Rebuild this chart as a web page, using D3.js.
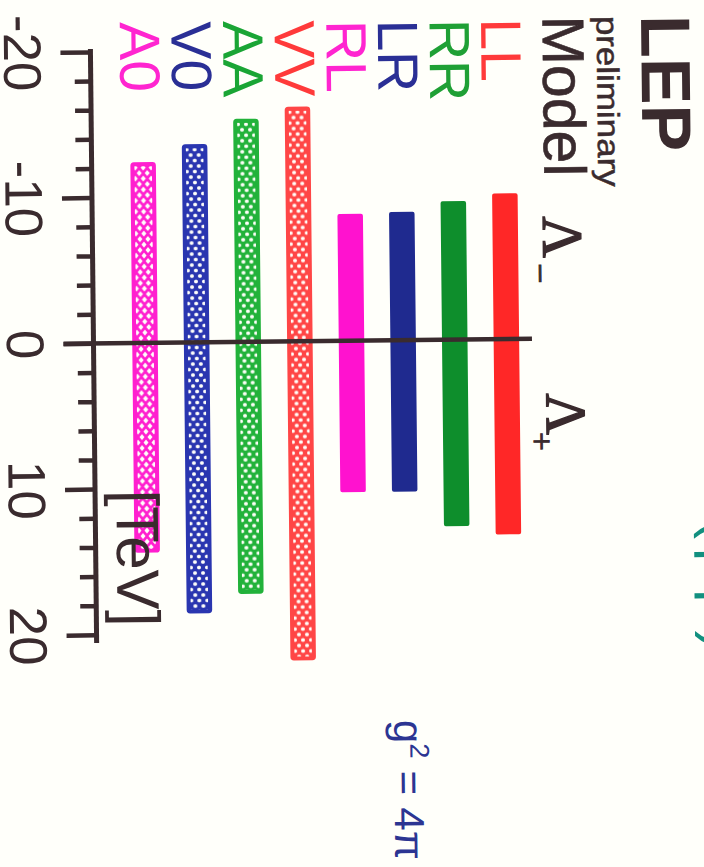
<!DOCTYPE html>
<html>
<head>
<meta charset="utf-8">
<script src="https://cdn.jsdelivr.net/npm/d3@7"></script>
<style>
  html, body { margin: 0; padding: 0; background: #fffffa; }
  svg { display: block; }
</style>
</head>
<body>
<script>
// Contact-interaction scale limits Λ− / Λ+ (TeV) per model
const models      = ["LL", "RR", "LR", "RL", "VV", "AA", "VO", "AO"];
const modelLabels = ["LL", "RR", "LR", "RL", "VV", "AA", "V0", "A0"];
const lambdaMinus = [10.0, 9.5, 8.8, 8.7, 16.1, 15.3, 13.6, 12.4];
const lambdaPlus  = [13.4, 12.8, 10.4, 10.4, 21.9, 17.3, 18.6, 14.4];
const hatched     = [false, false, false, false, true, true, true, true];
const barColors   = ["#ff2727", "#0e8e2c", "#1f2a8f", "#ff12cf", "#ff4646", "#22b23a", "#2a36b0", "#ff1fcf"];
const textColors  = ["#ff3a3a", "#1fa035", "#2a2f95", "#ff25d0", "#ff3a3a", "#1aa535", "#2a2f95", "#ff25d0"];
const majorTicks  = [-20, -10, 0, 10, 20];
const minorTicks  = [-18, -16, -14, -12, -8, -6, -4, -2, 2, 4, 6, 8, 12, 14, 16, 18];
const tickLabels  = ["-20", "-10", "0", "10", "20"];

const W = 704, H = 867;
const ink = "#3a2b2e";
const paper = "#fffffa";
const sans = "'Liberation Sans', Arial, Helvetica, sans-serif";
const serif = "'Liberation Serif', 'Times New Roman', serif";

const svg = d3.select("body").append("svg")
  .attr("width", W).attr("height", H);

svg.append("rect").attr("width", W).attr("height", H).attr("fill", paper);

const defs = svg.append("defs");

// The plot is laid out landscape and turned a quarter turn clockwise onto the page
const page = svg.append("g").attr("transform", "rotate(-0.6, 300, 343)");
const g = page.append("g").attr("transform", `translate(${W},0) rotate(90)`);

// value axis runs along the chart's horizontal, models stacked vertically
const x = d3.scaleLinear().domain([-20, 20]).range([49.7, 632.7]);
const y = d3.scalePoint().domain(models).range([197.6, 559]);
const barW = 25.5;
const axisY = 610.5;

const rows = models.map((m, i) => ({
  m, label: modelLabels[i], lo: -lambdaMinus[i], hi: lambdaPlus[i],
  hatched: hatched[i], color: barColors[i], text: textColors[i], i
}));

// dotted cross-hatch fills for the hatched models
rows.filter(d => d.hatched).forEach(d => {
  const pw = 11, ph = 8;
  const p = defs.append("pattern")
    .attr("id", "hatch-" + d.m)
    .attr("patternUnits", "userSpaceOnUse")
    .attr("width", pw).attr("height", ph)
    .attr("x", x(d.lo)).attr("y", y(d.m) - ph / 2);
  p.append("rect").attr("width", pw).attr("height", ph).attr("fill", d.color);
  const holes = [[0, 0], [pw, 0], [0, ph], [pw, ph], [pw / 2, ph / 2]];
  if (d.m === "AO") {
    holes.forEach(([cx, cy]) => p.append("path")
      .attr("d", `M${cx - 3},${cy} L${cx},${cy - 2.4} L${cx + 3},${cy} L${cx},${cy + 2.4} Z`)
      .attr("fill", paper));
  } else {
    holes.forEach(([cx, cy]) => p.append("circle")
      .attr("cx", cx).attr("cy", cy).attr("r", 1.9).attr("fill", paper));
  }
});

// bars
const bars = g.append("g");
rows.forEach(d => {
  if (d.hatched) {
    bars.append("rect")
      .attr("x", x(d.lo) + 2).attr("y", y(d.m) - barW / 2 + 2)
      .attr("width", x(d.hi) - x(d.lo) - 4).attr("height", barW - 4)
      .attr("rx", 1.5)
      .attr("fill", `url(#hatch-${d.m})`)
      .attr("stroke", d.color).attr("stroke-width", 4);
  } else {
    bars.append("rect")
      .attr("x", x(d.lo)).attr("y", y(d.m) - barW / 2)
      .attr("width", x(d.hi) - x(d.lo)).attr("height", barW)
      .attr("rx", 2)
      .attr("fill", d.color);
  }
});

// axis with minor and major ticks
const minorAxis = d3.axisBottom(x).tickValues(minorTicks).tickSize(16).tickSizeOuter(0).tickFormat("");
const majorAxis = d3.axisBottom(x).tickValues(majorTicks).tickSize(30).tickSizeOuter(0)
  .tickFormat((v, k) => tickLabels[k]);

const ga1 = g.append("g").attr("transform", `translate(0,${axisY})`).call(minorAxis);
const ga2 = g.append("g").attr("transform", `translate(0,${axisY})`).call(majorAxis);
[ga1, ga2].forEach(a => {
  a.select(".domain").remove();
  a.selectAll(".tick line").attr("stroke", ink).attr("stroke-width", 4.5);
});
ga2.selectAll(".tick text")
  .attr("y", 86.5).attr("dy", 0)
  .attr("fill", ink)
  .style("font-family", sans).style("font-size", "53px");

g.append("line")
  .attr("x1", x(-20.2)).attr("x2", x(20.56))
  .attr("y1", axisY).attr("y2", axisY)
  .attr("stroke", ink).attr("stroke-width", 5);

// zero line
g.append("line")
  .attr("x1", x(0)).attr("x2", x(0))
  .attr("y1", axisY + 30).attr("y2", 172)
  .attr("stroke", ink).attr("stroke-width", 4.5);

// model labels
g.append("g").selectAll("text").data(rows).join("text")
  .attr("x", 20.5).attr("y", d => y(d.m) + 22)
  .attr("fill", d => d.text)
  .style("font-family", sans).style("font-size", "57px")
  .text(d => d.label);

// header
g.append("text").attr("x", 18.8).attr("y", 59.5)
  .attr("fill", ink).style("font-family", sans).style("font-size", "70px").style("font-weight", "bold")
  .text("LEP");
g.append("text").attr("x", 19).attr("y", 104)
  .attr("fill", ink).style("font-family", sans).style("font-size", "31px")
  .attr("stroke", ink).attr("stroke-width", 0.5)
  .attr("textLength", 171).attr("lengthAdjust", "spacingAndGlyphs")
  .text("preliminary");
g.append("text").attr("x", 18.5).attr("y", 158)
  .attr("fill", ink).style("font-family", sans).style("font-size", "59px")
  .attr("stroke", ink).attr("stroke-width", 0.6)
  .text("Model");

// Λ− and Λ+ markers
g.append("text").attr("x", 219).attr("y", 159.6)
  .attr("fill", ink).attr("stroke", ink).attr("stroke-width", 1.4)
  .style("font-family", serif).style("font-size", "57px").text("Λ");
g.append("text").attr("x", 265.7).attr("y", 175.3)
  .attr("fill", ink).attr("stroke", ink).attr("stroke-width", 1)
  .style("font-family", serif).style("font-size", "36px").text("−");
g.append("text").attr("x", 396).attr("y", 158)
  .attr("fill", ink).attr("stroke", ink).attr("stroke-width", 1.4)
  .style("font-family", serif).style("font-size", "57px").text("Λ");
g.append("text").attr("x", 434.7).attr("y", 174.4)
  .attr("fill", ink).attr("stroke", ink).attr("stroke-width", 1)
  .style("font-family", serif).style("font-size", "33px").text("+");

// unit
g.append("text").attr("x", 488).attr("y", 589.3)
  .attr("fill", ink).style("font-family", sans).style("font-size", "60px")
  .text("[TeV]");

// coupling
const gc = g.append("text").attr("x", 721).attr("y", 314)
  .attr("fill", "#2c3592").style("font-family", sans).style("font-size", "42px")
  .attr("textLength", 140).attr("lengthAdjust", "spacing");
gc.append("tspan").text("g");
gc.append("tspan").attr("dy", -16).style("font-size", "27px").text("2");
gc.append("tspan").attr("dy", 16).text(" = 4π");

// process label running off the edge
g.append("text").attr("x", 524).attr("y", 0)
  .attr("fill", "#12907f").style("font-family", sans).style("font-size", "58px")
  .attr("textLength", 130).attr("lengthAdjust", "spacing")
  .text("(pp)");
</script>
</body>
</html>
